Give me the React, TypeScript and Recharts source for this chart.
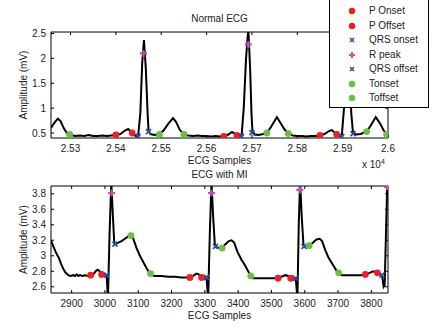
import React from "react";
import { ComposedChart, Line, Scatter, XAxis, YAxis } from "recharts";

// Normal ECG (samples, mV)
const normalX = [
  25257, 25264, 25272, 25278, 25285, 25292, 25298, 25310, 25320, 25330, 25340, 25350, 25360, 25370, 25380, 25390,
  25400, 25410, 25420, 25427, 25433, 25436, 25442, 25449, 25454, 25458, 25462, 25466, 25470, 25472, 25476, 25485,
  25496, 25505, 25515, 25526, 25533, 25540, 25550, 25560, 25570, 25580, 25590, 25600, 25610, 25620, 25630, 25638,
  25648, 25656, 25662, 25667, 25677, 25682, 25687, 25692, 25696, 25699, 25701, 25706, 25715, 25725, 25733, 25742,
  25755, 25763, 25772, 25780, 25790, 25800, 25810, 25820, 25830, 25840, 25850, 25860, 25870, 25876, 25882, 25887,
  25893, 25898, 25903, 25907, 25911, 25915, 25919, 25923, 25930, 25940, 25953, 25962, 25973, 25982, 25990, 25997, 26000,
];
const normalY = [
  0.6, 0.7, 0.79, 0.74, 0.6, 0.5, 0.47, 0.44, 0.45, 0.44, 0.46, 0.44, 0.44, 0.45, 0.44, 0.45,
  0.46, 0.48, 0.55, 0.58, 0.53, 0.5, 0.45, 0.43, 0.9, 1.9, 2.37, 1.8, 0.9, 0.55, 0.48, 0.46,
  0.48, 0.55, 0.68, 0.8, 0.72, 0.58, 0.47, 0.45, 0.44, 0.45, 0.44, 0.44, 0.43, 0.44, 0.43, 0.43,
  0.47, 0.52, 0.49, 0.45, 0.43, 1.0, 2.0, 2.6, 1.8, 0.9, 0.55, 0.47, 0.46, 0.48, 0.5, 0.62,
  0.82, 0.7, 0.57, 0.49, 0.45, 0.44, 0.44, 0.43, 0.44, 0.44, 0.45, 0.48, 0.54, 0.56, 0.51, 0.47,
  0.44, 0.43, 1.0, 2.0, 2.6, 1.8, 0.9, 0.49, 0.47, 0.48, 0.53, 0.65, 0.82, 0.7, 0.56, 0.47, 0.46,
];

// ECG with MI (samples, mV)
const miX = [
  2838, 2845, 2852, 2858, 2862, 2868, 2875, 2882, 2890, 2897, 2905, 2910, 2915, 2920, 2925, 2932, 2940, 2950,
  2957, 2965, 2972, 2978, 2984, 2990, 2998, 3005, 3009, 3014, 3019, 3024, 3028, 3030, 3040, 3050, 3060, 3070,
  3078, 3085, 3095, 3105, 3115, 3125, 3135, 3140, 3150, 3170, 3190, 3210, 3230, 3250, 3255, 3265, 3275, 3282,
  3290, 3298, 3305, 3310, 3315, 3320, 3325, 3330, 3335, 3345, 3352, 3362, 3372, 3380, 3388, 3398, 3410, 3420,
  3430, 3438, 3445, 3460, 3480, 3500, 3520, 3530, 3542, 3550, 3558, 3565, 3573, 3578, 3582, 3586, 3591, 3596,
  3598, 3605, 3613, 3625, 3635, 3645, 3652, 3662, 3672, 3685, 3695, 3702, 3710, 3730, 3750, 3770, 3782, 3795,
  3805, 3812, 3818, 3825, 3832, 3837, 3840, 3844, 3848, 3850,
];
const miY = [
  3.2, 3.12, 3.05, 3.0, 2.97, 2.9, 2.83, 2.78, 2.75, 2.74, 2.75, 2.74, 2.76, 2.74, 2.75, 2.74, 2.75, 2.74,
  2.75, 2.76, 2.8, 2.82, 2.8, 2.76, 2.75, 2.74, 2.45, 3.3, 3.95, 3.5, 3.16, 3.15, 3.17, 3.19, 3.22, 3.25,
  3.27, 3.22, 3.1, 3.0, 2.92, 2.84, 2.77, 2.75, 2.74, 2.74, 2.73, 2.73, 2.72, 2.72, 2.72, 2.74, 2.77, 2.76,
  2.72, 2.71, 2.71, 2.45, 3.3, 3.95, 3.5, 3.14, 3.11, 3.1, 3.11, 3.15, 3.19, 3.2, 3.17, 3.05, 2.95, 2.88,
  2.8, 2.74, 2.71, 2.71, 2.71, 2.71, 2.71, 2.73, 2.75, 2.74, 2.71, 2.71, 2.71, 2.45, 3.4, 3.95, 3.5, 3.15,
  3.12, 3.12, 3.13, 3.17, 3.21, 3.22, 3.19, 3.07, 2.97, 2.88, 2.81, 2.78, 2.75, 2.75, 2.75, 2.75, 2.76, 2.78,
  2.8, 2.79, 2.78, 2.76, 2.75, 2.6, 2.62, 3.3, 3.95, 3.9,
];

// fiducial points, normal ECG
const nPOnX = [25400, 25638, 25850];
const nPOnY = [0.46, 0.43, 0.45];
const nPOffX = [25436, 25667, 25887];
const nPOffY = [0.5, 0.45, 0.47];
const nQrsOnX = [25449, 25677, 25898];
const nQrsOnY = [0.43, 0.43, 0.43];
const nRX = [25461, 25692, 25910];
const nRY = [2.1, 2.28, 2.3];
const nQrsOffX = [25472, 25700, 25923];
const nQrsOffY = [0.53, 0.51, 0.49];
const nTOnX = [25496, 25733, 25953];
const nTOnY = [0.47, 0.5, 0.53];
const nTOffX = [25298, 25550, 25780, 25997];
const nTOffY = [0.47, 0.47, 0.49, 0.47];

// fiducial points, MI
const mPOnX = [2957, 3255, 3520, 3782];
const mPOnY = [2.75, 2.72, 2.71, 2.76];
const mPOffX = [2990, 3290, 3558, 3818];
const mPOffY = [2.76, 2.72, 2.71, 2.78];
const mQrsOnX = [3005, 3305, 3573, 3832];
const mQrsOnY = [2.75, 2.72, 2.71, 2.75];
const mRX = [3020, 3320, 3585, 3848];
const mRY = [3.81, 3.81, 3.85, 3.89];
const mQrsOffX = [3030, 3332, 3598];
const mQrsOffY = [3.15, 3.12, 3.12];
const mTOnX = [3078, 3352, 3613];
const mTOnY = [3.26, 3.1, 3.13];
const mTOffX = [3137, 3438, 3702];
const mTOffY = [2.77, 2.74, 2.78];

const normalTicksX = [25300, 25400, 25500, 25600, 25700, 25800, 25900, 26000];
const normalTicksY = [0.5, 1, 1.5, 2, 2.5];
const miTicksX = [2900, 3000, 3100, 3200, 3300, 3400, 3500, 3600, 3700, 3800];
const miTicksY = [2.6, 2.8, 3, 3.2, 3.4, 3.6, 3.8];

const legendNames = ["P Onset", "P Offset", "QRS onset", "R peak", "QRS offset", "Tonset", "Toffset"];

const RED = "#ee1f26";
const BLUE = "#2b4fa2";
const MAGENTA = "#c04fae";
const GREEN = "#6cbf45";
const legendKinds = ["dot", "dot", "x", "plus", "x", "dot", "dot"];
const legendColors = [RED, RED, BLUE, MAGENTA, BLUE, GREEN, GREEN];

const FONT = "Arial, 'Liberation Sans', sans-serif";
const tickStyle = { fill: "#222", fontSize: 10, fontFamily: FONT };

const zip = (xs: number[], ys: number[]) => xs.map((x, i) => ({ x, y: ys[i] }));

const Dot = (color: string) => (p: any) => <circle cx={p.cx} cy={p.cy} r={3.4} fill={color} />;
const Cross = (color: string) => (p: any) => (
  <path
    d={`M${p.cx - 2.5},${p.cy - 2.5}L${p.cx + 2.5},${p.cy + 2.5}M${p.cx - 2.5},${p.cy + 2.5}L${p.cx + 2.5},${p.cy - 2.5}`}
    stroke={color}
    strokeWidth={1.8}
  />
);
const Plus = (color: string) => (p: any) => (
  <path
    d={`M${p.cx - 3.5},${p.cy}L${p.cx + 3.5},${p.cy}M${p.cx},${p.cy - 3.5}L${p.cx},${p.cy + 3.5}`}
    stroke={color}
    strokeWidth={2.2}
  />
);

interface PanelProps {
  top: number;
  height: number;
  marginTop: number;
  marginBottom: number;
  title: string;
  titleTop: number;
  lineX: number[];
  lineY: number[];
  domainX: [number, number];
  domainY: [number, number];
  ticksX: number[];
  ticksY: number[];
  fmtX: (v: number) => string;
  marks: { xs: number[]; ys: number[]; shape: any }[];
}

const Panel = (p: PanelProps) => (
  <div style={{ position: "absolute", left: 0, top: p.top }}>
    <div
      style={{
        position: "absolute",
        left: 51,
        width: 337,
        top: p.titleTop,
        textAlign: "center",
        fontFamily: FONT,
        fontSize: 10,
        color: "#222",
        lineHeight: "12px",
      }}
    >
      {p.title}
    </div>
    <ComposedChart
      width={445}
      height={p.height}
      margin={{ top: p.marginTop - 1, right: 56, left: 11, bottom: p.marginBottom }}
    >
      <XAxis
        xAxisId={0}
        type="number"
        dataKey="x"
        domain={p.domainX}
        ticks={p.ticksX}
        interval={0}
        allowDataOverflow
        tickFormatter={p.fmtX}
        tick={tickStyle}
        tickSize={-3}
        tickMargin={10}
        height={30}
        stroke="#000"
        label={{ value: "ECG Samples", position: "insideBottom", offset: 4, style: { ...tickStyle, fill: "#222" } }}
      />
      <XAxis
        xAxisId="top"
        orientation="top"
        type="number"
        dataKey="x"
        domain={p.domainX}
        ticks={p.ticksX}
        interval={0}
        allowDataOverflow
        tickFormatter={() => ""}
        tickSize={-3}
        height={1}
        stroke="#000"
      />
      <YAxis
        yAxisId={0}
        type="number"
        domain={p.domainY}
        ticks={p.ticksY}
        interval={0}
        allowDataOverflow
        tick={tickStyle}
        tickSize={-3}
        tickMargin={8}
        width={40}
        stroke="#000"
        label={{
          value: "Amplitude (mV)",
          angle: -90,
          position: "insideLeft",
          offset: 12,
          style: { ...tickStyle, fill: "#222", textAnchor: "middle" },
        }}
      />
      <YAxis
        yAxisId="right"
        orientation="right"
        type="number"
        domain={p.domainY}
        ticks={p.ticksY}
        interval={0}
        allowDataOverflow
        tickFormatter={() => ""}
        tickSize={-3}
        width={1}
        stroke="#000"
      />
      <Line
        data={zip(p.lineX, p.lineY)}
        dataKey="y"
        type="linear"
        stroke="#000"
        strokeWidth={2}
        dot={false}
        activeDot={false}
        isAnimationActive={false}
      />
      {p.marks.map((m, i) => (
        <Scatter key={i} data={zip(m.xs, m.ys)} dataKey="y" shape={m.shape} isAnimationActive={false} />
      ))}
    </ComposedChart>
  </div>
);

const Legend = () => (
  <div
    style={{
      position: "absolute",
      left: 329,
      top: -4,
      width: 98,
      height: 110,
      background: "#fff",
      border: "1px solid #000",
      fontFamily: FONT,
      fontSize: 10,
      color: "#222",
    }}
  >
    {legendNames.map((name, i) => {
      const c = legendColors[i];
      const k = legendKinds[i];
      return (
        <div key={name} style={{ position: "absolute", left: 0, top: 7 + i * 14.5, height: 14, width: 98 }}>
          <svg width={14} height={14} style={{ position: "absolute", left: 15, top: 0 }}>
            {k === "dot" && <circle cx={7} cy={7} r={3.2} fill={c} />}
            {k === "x" && <path d="M5,5L9,9M5,9L9,5" stroke={c} strokeWidth={1.6} />}
            {k === "plus" && <path d="M4,7L10,7M7,4L7,10" stroke={c} strokeWidth={2} />}
          </svg>
          <span style={{ position: "absolute", left: 39, top: 1, lineHeight: "12px" }}>{name}</span>
        </div>
      );
    })}
  </div>
);

export default function App() {
  return (
    <div style={{ position: "absolute", left: 0, top: 0, width: 445, height: 332, background: "#fff", overflow: "hidden" }}>
      <Panel
        top={0}
        height={170}
        marginTop={32}
        marginBottom={2}
        title="Normal ECG"
        titleTop={13}
        lineX={normalX}
        lineY={normalY}
        domainX={[25257, 26000]}
        domainY={[0.4, 2.53]}
        ticksX={normalTicksX}
        ticksY={normalTicksY}
        fmtX={(v) => String(+(v / 10000).toFixed(2))}
        marks={[
          { xs: nPOnX, ys: nPOnY, shape: Dot(RED) },
          { xs: nPOffX, ys: nPOffY, shape: Dot(RED) },
          { xs: nQrsOnX, ys: nQrsOnY, shape: Cross(BLUE) },
          { xs: nRX, ys: nRY, shape: Plus(MAGENTA) },
          { xs: nQrsOffX, ys: nQrsOffY, shape: Cross(BLUE) },
          { xs: nTOnX, ys: nTOnY, shape: Dot(GREEN) },
          { xs: nTOffX, ys: nTOffY, shape: Dot(GREEN) },
        ]}
      />
      <div style={{ position: "absolute", left: 362, top: 158, fontFamily: FONT, fontSize: 10, color: "#222" }}>
        x 10<sup style={{ fontSize: 7 }}>4</sup>
      </div>
      <Panel
        top={166}
        height={166}
        marginTop={20}
        marginBottom={9}
        title="ECG with MI"
        titleTop={3}
        lineX={miX}
        lineY={miY}
        domainX={[2838, 3850]}
        domainY={[2.52, 3.9]}
        ticksX={miTicksX}
        ticksY={miTicksY}
        fmtX={(v) => String(v)}
        marks={[
          { xs: mPOnX, ys: mPOnY, shape: Dot(RED) },
          { xs: mPOffX, ys: mPOffY, shape: Dot(RED) },
          { xs: mQrsOnX, ys: mQrsOnY, shape: Cross(BLUE) },
          { xs: mRX, ys: mRY, shape: Plus(MAGENTA) },
          { xs: mQrsOffX, ys: mQrsOffY, shape: Cross(BLUE) },
          { xs: mTOnX, ys: mTOnY, shape: Dot(GREEN) },
          { xs: mTOffX, ys: mTOffY, shape: Dot(GREEN) },
        ]}
      />
      <Legend />
    </div>
  );
}
